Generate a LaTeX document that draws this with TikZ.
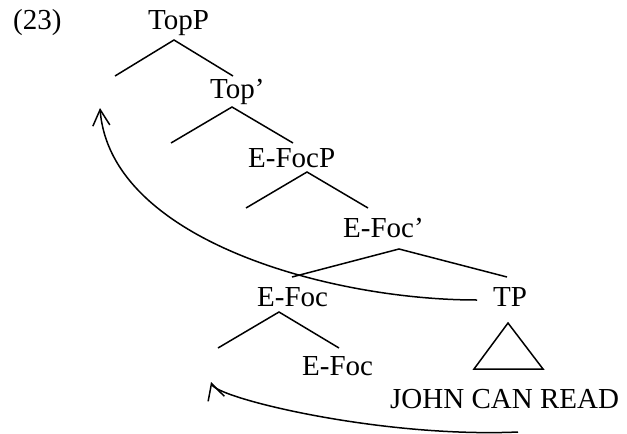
\documentclass[tikz,border=0pt]{standalone}
\usepackage{fontspec}
\setmainfont{Liberation Serif}
\usetikzlibrary{arrows.meta}

\begin{document}
\begin{tikzpicture}[
  lbl/.style={anchor=base west,inner sep=0pt,font=\fontsize{29}{34}\selectfont},
  branch/.style={line width=1.5pt,line join=miter},
  move/.style={line width=1.5pt,-{Straight Barb[length=16pt,width=17pt]}}
]
\begin{scope}[x=1pt,y=-1pt]
  \useasboundingbox (0,0) rectangle (627,434);
  % labels
  \foreach \name/\x/\y/\txt in {ex/13/29/{(23)},topP/148/29/TopP,top1/210/98/{Top’},
      efocP/248/167/E-FocP,efoc1/343/237/{E-Foc’},efoc/257/306/E-Foc,tp/493/306/TP,
      efocb/302/375/E-Foc,john/390/408/{JOHN CAN READ}} {
    \node[lbl] (\name) at (\x,\y) {\txt};
  }
  % branches: apex, half width, drop
  \foreach \name/\x/\y/\dl/\dr/\h in {topP/174/40/59/59/36,top1/232/107/61/61/36,
      efocP/307/172/61/61/36,efoc1/399/249/107/108/28,efoc/279/312/61/60/36} {
    \coordinate (\name-a) at (\x,\y);
    \coordinate (\name-l) at (\x-\dl,\y+\h);
    \coordinate (\name-r) at (\x+\dr,\y+\h);
    \draw[branch] (\name-l) -- (\name-a) -- (\name-r);
  }
  % triangle over TP
  \coordinate (tri-a) at (508,323);
  \coordinate (tri-l) at (474,369);
  \coordinate (tri-r) at (543,369);
  \draw[branch] (tri-a) -- (tri-l) -- (tri-r) -- cycle;
  % movement arrows
  \coordinate (tpmove) at (477,300);
  \coordinate (topgap) at (100,108);
  \coordinate (tpmove2) at (518,432);
  \coordinate (efocgap) at (211,382);
  \draw[move] (tpmove) .. controls (330,300) and (110,240) .. (topgap);
  \draw[move] (tpmove2) .. controls (380,438) and (216,398) .. (efocgap);
\end{scope}
\end{tikzpicture}
\end{document}
